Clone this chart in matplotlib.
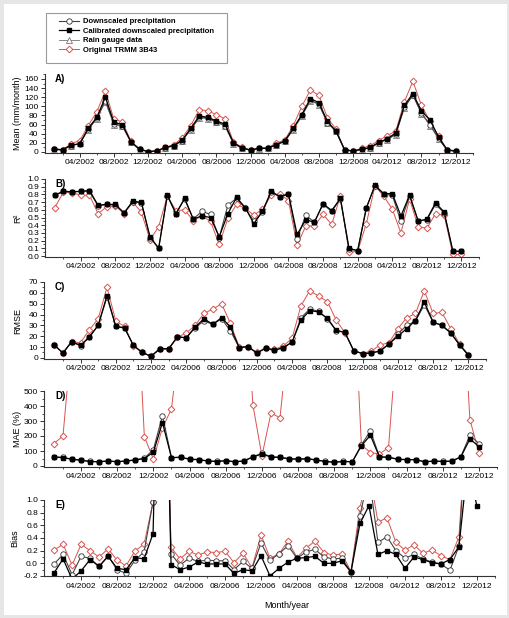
import matplotlib
matplotlib.use('Agg')
import matplotlib.pyplot as plt
from matplotlib.patches import Rectangle
from matplotlib.lines import Line2D
from matplotlib.ticker import MultipleLocator, FormatStrFormatter

plt.rcParams['font.family'] = ['Liberation Sans', 'DejaVu Sans']
plt.rcParams['axes.unicode_minus'] = False

# 48 months: 2002, 2006, 2008, 2012 (Jan..Dec each), plotted side by side
months = list(range(48))
tick_pos = [3, 7, 11, 15, 19, 23, 27, 31, 35, 39, 43, 47]
tick_labels = ['04/2002', '08/2002', '12/2002', '04/2006', '08/2006', '12/2006',
               '04/2008', '08/2008', '12/2008', '04/2012', '08/2012', '12/2012']

# A) mean precipitation (mm/month)
calib_A = [6, 5, 15, 18, 52, 76, 120, 65, 60, 22, 6, 1,
           2, 10, 14, 26, 52, 79, 76, 68, 61, 20, 9, 4,
           8, 8, 16, 24, 52, 82, 117, 108, 67, 45, 5, 2,
           6, 10, 21, 29, 42, 102, 128, 90, 70, 33, 5, 2]
down_A = [6, 5, 14, 18, 50, 74, 112, 62, 57, 22, 6, 1,
          2, 9, 14, 25, 50, 76, 74, 66, 58, 19, 9, 4,
          8, 8, 16, 24, 50, 80, 113, 105, 64, 47, 5, 2,
          6, 9, 20, 28, 39, 98, 125, 85, 60, 30, 4, 2]
gauge_A = [5, 4, 14, 19, 49, 73, 110, 60, 56, 21, 5, 1,
           2, 9, 13, 25, 49, 75, 73, 65, 57, 18, 8, 4,
           7, 8, 15, 23, 49, 79, 112, 104, 63, 46, 4, 2,
           5, 9, 20, 27, 38, 97, 124, 84, 58, 29, 4, 1]
trmm_A = [7, 5, 18, 25, 58, 88, 133, 72, 66, 23, 7, 1,
          3, 10, 16, 31, 58, 93, 90, 82, 73, 22, 10, 4,
          9, 9, 20, 26, 58, 100, 136, 124, 75, 50, 5, 2,
          8, 14, 25, 36, 46, 110, 155, 102, 68, 35, 5, 2]

# B) R2
calib_B = [0.79, 0.84, 0.835, 0.84, 0.85, 0.66, 0.67, 0.67, 0.56, 0.71, 0.70, 0.25,
           0.10, 0.79, 0.55, 0.75, 0.48, 0.52, 0.50, 0.25, 0.55, 0.76, 0.63, 0.42,
           0.58, 0.84, 0.77, 0.81, 0.28, 0.47, 0.44, 0.68, 0.59, 0.75, 0.10, 0.07,
           0.62, 0.92, 0.81, 0.81, 0.52, 0.79, 0.45, 0.48, 0.69, 0.57, 0.065, 0.06]
down_B = [0.79, 0.84, 0.83, 0.84, 0.84, 0.65, 0.67, 0.66, 0.56, 0.70, 0.69, 0.24,
          0.10, 0.78, 0.55, 0.74, 0.48, 0.58, 0.54, 0.24, 0.66, 0.75, 0.62, 0.45,
          0.57, 0.83, 0.77, 0.80, 0.22, 0.53, 0.44, 0.67, 0.58, 0.74, 0.09, 0.07,
          0.63, 0.91, 0.80, 0.79, 0.45, 0.78, 0.46, 0.47, 0.67, 0.56, 0.06, 0.06]
trmm_B = [0.63, 0.83, 0.82, 0.79, 0.79, 0.55, 0.64, 0.65, 0.55, 0.70, 0.57, 0.21,
          0.38, 0.78, 0.59, 0.60, 0.46, 0.52, 0.45, 0.15, 0.49, 0.67, 0.62, 0.53,
          0.61, 0.79, 0.81, 0.72, 0.14, 0.39, 0.39, 0.54, 0.41, 0.78, 0.05, 0.06,
          0.42, 0.91, 0.78, 0.61, 0.30, 0.74, 0.38, 0.36, 0.55, 0.53, 0.02, 0.02]

# C) RMSE
calib_C = [12, 4.5, 15, 11.5, 19.5, 30, 57.5, 29, 27.5, 11.5, 5, 1.5,
           8.5, 8.5, 19.5, 18.5, 28.5, 36, 31, 37, 28.5, 9.5, 10.5, 4.5,
           9, 7, 9.5, 14.5, 35, 43.5, 42.5, 36.5, 25.5, 23.5, 6.5, 4,
           4.5, 6.5, 13, 20, 27, 34.5, 51.5, 33, 30, 23, 12, 2.5]
down_C = [12, 4.5, 15, 11, 19, 30, 56, 29, 28, 11.5, 5, 1.5,
          8.5, 8.5, 19.5, 18.5, 28, 34, 31, 36, 25, 9.5, 10.5, 4.5,
          9, 7, 9.5, 14.5, 37, 45, 43, 36, 25, 23.5, 6.5, 4,
          4.5, 6.5, 12.5, 22, 30, 34, 49, 33, 30, 23, 12, 2.5]
trmm_C = [12, 4.5, 15, 14, 26, 36, 65, 34, 29, 11, 5, 1.5,
          8, 8, 19, 23, 30, 41, 45, 50, 32, 10, 10, 5,
          9, 8, 11, 18, 48, 62, 57, 52, 35, 23, 6.5, 4,
          6.5, 12, 14, 27, 37, 41, 62, 41, 42, 27, 13, 3]

# D) MAE (%)
calib_D = [60, 55, 45, 38, 30, 28, 33, 28, 33, 40, 50, 92,
           290, 55, 58, 45, 42, 33, 30, 35, 28, 33, 60, 80,
           60, 57, 48, 45, 48, 40, 30, 25, 30, 28, 135, 205,
           60, 58, 45, 42, 42, 28, 32, 30, 32, 60, 180, 130]
down_D = [62, 57, 46, 39, 31, 29, 34, 29, 34, 41, 52, 110,
          335, 56, 59, 46, 43, 34, 31, 36, 29, 34, 62, 85,
          62, 58, 49, 46, 49, 41, 31, 26, 31, 29, 140, 235,
          62, 59, 46, 43, 43, 29, 33, 31, 33, 62, 205, 150]
trmm_D = [150, 200, 875, 1500, 1500, 1500, 1500, 1500, 1500, 1370, 196, 45,
          255, 380, 900, 1500, 1500, 1500, 1500, 1500, 1500, 1400, 408, 67,
          352, 323, 900, 1500, 1500, 1500, 1500, 1500, 1500, 1400, 140, 90,
          80, 123, 900, 1500, 1500, 1500, 1500, 1500, 1500, 1400, 310, 90]

# E) Bias
calib_E = [-0.15, 0.07, -0.25, -0.12, 0.06, -0.05, 0.11, -0.08, -0.10, 0.09, 0.07, 0.47,
           6.0, -0.02, -0.10, -0.06, 0.02, -0.01, -0.01, -0.01, -0.16, -0.10, -0.12, 0.12,
           -0.20, -0.08, 0.02, 0.08, 0.09, 0.11, 0.0, 0.0, 0.04, -0.14, 0.63, 0.91,
           0.14, 0.20, 0.14, -0.08, 0.10, 0.06, 0.01, -0.01, 0.06, 0.26, 1.6, 0.90]
down_E = [-0.01, 0.14, -0.18, 0.11, 0.08, -0.05, 0.12, -0.10, -0.16, 0.05, 0.18, 0.97,
          6.0, 0.15, -0.03, 0.08, 0.03, 0.05, 0.04, 0.04, -0.10, 0.03, -0.08, 0.32,
          0.05, 0.15, 0.28, 0.08, 0.18, 0.22, 0.10, 0.07, 0.08, -0.14, 0.75, 1.4,
          0.33, 0.42, 0.20, 0.08, 0.14, 0.07, 0.02, -0.01, -0.11, 0.27, 2.5, 3.0]
trmm_E = [0.21, 0.30, -0.03, 0.30, 0.20, 0.10, 0.23, 0.05, -0.04, 0.20, 0.30, 0.97,
          6.0, 0.25, 0.07, 0.19, 0.13, 0.18, 0.17, 0.19, 0.01, 0.16, -0.07, 0.45,
          0.08, 0.15, 0.35, 0.09, 0.24, 0.35, 0.17, 0.13, 0.15, -0.13, 0.88, 1.5,
          0.65, 0.72, 0.33, 0.21, 0.29, 0.16, 0.21, 0.12, 0.06, 0.42, 2.5, 3.0]

RED = '#d9534f'
styles = {
    'trmm': dict(color=RED, marker='D', ms=3.4, mfc='white', mec=RED, mew=0.7, lw=0.7),
    'gauge': dict(color='#888888', marker='^', ms=3.8, mfc='white', mec='#777777', mew=0.6, lw=0.7),
    'down': dict(color='#444444', marker='o', ms=3.9, mfc='white', mec='#333333', mew=0.6, lw=0.8),
    'calib': dict(color='black', marker='s', ms=3.4, mfc='black', mec='black', lw=0.9),
}

W, H = 510, 618
fig = plt.figure(figsize=(W / 100, H / 100), dpi=100)
fig.patch.set_edgecolor('#e6e6e6')
fig.patch.set_linewidth(5)


def add_panel(left, top, right, bottom):
    return fig.add_axes([left / W, 1 - bottom / H, (right - left) / W, (bottom - top) / H])


# (box in px, ylim, major, minor, ylabel, letter, fmt, series)
panels = [
    ((44.7, 74.4, 472.7, 152.9), (-2, 170), 20, 10, 'Mean (mm/month)', 'A)', '%d',
     [('trmm', trmm_A), ('gauge', gauge_A), ('down', down_A), ('calib', calib_A)]),
    ((45.3, 179, 478.8, 256.8), (-0.01, 1.0), 0.1, 0.05, 'R²', 'B)', '%.1f',
     [('trmm', trmm_B), ('down', down_B), ('calib', calib_B)]),
    ((44.4, 282, 486, 359), (-1, 70), 10, 5, 'RMSE', 'C)', '%d',
     [('trmm', trmm_C), ('down', down_C), ('calib', calib_C)]),
    ((44.0, 391, 497, 467.2), (-8, 500), 100, 50, 'MAE (%)', 'D)', '%d',
     [('trmm', trmm_D), ('down', down_D), ('calib', calib_D)]),
    ((44.2, 500, 494.9, 576.3), (-0.205, 1.0), 0.2, 0.1, 'Bias', 'E)', '%.1f',
     [('trmm', trmm_E), ('down', down_E), ('calib', calib_E)]),
]

for box, ylim, major, minor, ylabel, letter, fmt, series in panels:
    ax = add_panel(*box)
    for name, vals in series:
        ax.plot(months, vals, **styles[name])
    ax.set_xlim(-1.1, 48.0)
    ax.set_ylim(*ylim)
    ax.yaxis.set_major_locator(MultipleLocator(major))
    ax.yaxis.set_minor_locator(MultipleLocator(minor))
    ax.yaxis.set_major_formatter(FormatStrFormatter(fmt))
    ax.set_xticks(tick_pos)
    ax.set_xticklabels(tick_labels)
    ax.set_xticks([p - 2 for p in tick_pos] + [p + 2 for p in tick_pos[-1:]], minor=True)
    for s in ['top', 'right']:
        ax.spines[s].set_visible(False)
    for s in ['left', 'bottom']:
        ax.spines[s].set_linewidth(0.8)
        ax.spines[s].set_color('#333333')
    ax.tick_params(which='major', direction='out', length=3, width=0.7, labelsize=6,
                   pad=1.5, color='#333333')
    ax.tick_params(which='minor', direction='out', length=1.6, width=0.6, color='#333333')
    ax.set_ylabel(ylabel, fontsize=6.5)
    x_lab = 22.5 if letter != 'E)' else 19.5
    ax.yaxis.set_label_coords((x_lab - box[0]) / (box[2] - box[0]), 0.5)
    ax.text((55 - box[0]) / (box[2] - box[0]), 0.94, letter, transform=ax.transAxes,
            fontsize=7, fontweight='bold', va='center', ha='left')

fig.text(287 / W, 1 - 605 / H, 'Month/year', fontsize=6.5, ha='center', va='center')

# legend, frame drawn separately
handles = [Line2D([], [], **styles['down']), Line2D([], [], **styles['calib']),
           Line2D([], [], **styles['gauge']), Line2D([], [], **styles['trmm'])]
names = ['Downscaled precipitation', 'Calibrated downscaled precipitation',
         'Rain gauge data', 'Original TRMM 3B43']
fig.legend(handles, names, loc='upper left', bbox_to_anchor=(59 / W, 1 - 18 / H),
           frameon=False, handlelength=2.6, handletextpad=0.6, labelspacing=0.28,
           borderpad=0, borderaxespad=0,
           prop={'weight': 'bold', 'size': 5.5})
fig.patches.append(Rectangle((46 / W, 1 - 63 / H), 181 / W, 50 / H,
                             transform=fig.transFigure, fill=False,
                             edgecolor='#9a9a9a', linewidth=0.8))

fig.savefig('out.png', dpi=100, edgecolor=fig.get_edgecolor())
